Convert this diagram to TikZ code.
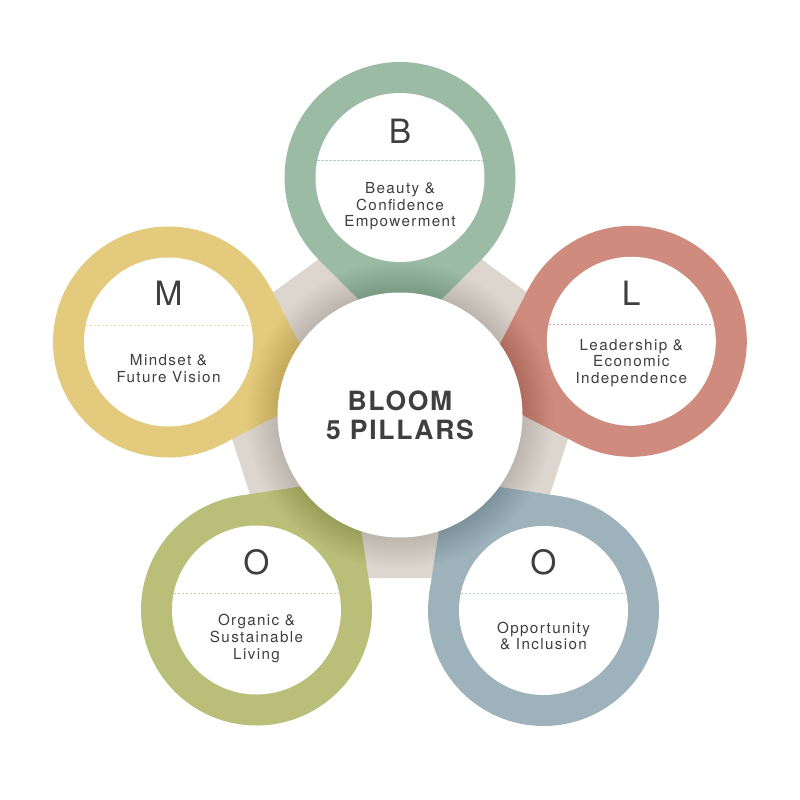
\documentclass[tikz,border=0pt]{standalone}
\usepackage{fontspec}
\setmainfont{TeX Gyre Heros}
\newfontfamily\bodyfont[LetterSpace=9]{TeX Gyre Heros}
\newfontfamily\titlefont[LetterSpace=6.4]{TeX Gyre Heros}
\usetikzlibrary{calc}
\definecolor{cB}{HTML}{9BBBA5}
\definecolor{cL}{HTML}{D08B7F}
\definecolor{cM}{HTML}{E4CA7C}
\definecolor{cOl}{HTML}{B9BE78}
\definecolor{cOr}{HTML}{9EB2BB}
\definecolor{pent}{HTML}{DDD6CE}
\definecolor{ink}{HTML}{3F3F3F}
\tikzset{
  letter/.style={anchor=base, text=ink, inner sep=0pt, font=\fontsize{33.5}{40}\selectfont},
  body/.style={anchor=base, text=ink, inner sep=0pt, font=\bodyfont\fontsize{15.2}{18}\selectfont},
  titletext/.style={anchor=base, text=ink, inner sep=0pt, font=\titlefont\bfseries\fontsize{26.5}{30}\selectfont},
  divider/.style={line width=0.8pt, dash pattern=on 2.5pt off 1.5pt},
}
\newcommand\podshape[4]{%
  \coordinate (#1c) at (#2,#3);
  \pgfmathsetmacro\podang{atan2(415-#3,400-#2)}
  \pgfmathsetmacro\podangA{\podang+45}
  \pgfmathsetmacro\podangB{\podang-45}
  \fill[#4] ($(#1c)+(\podang:163.3)$) -- ($(#1c)+(\podangA:115.5)$) -- (#1c) -- ($(#1c)+(\podangB:115.5)$) -- cycle;
  \fill[#4] (#1c) circle[radius=115.5];
}
\newcommand\podinner[2]{%
  \fill[white] (#1c) circle[radius=84.5];
  \draw[divider, #2!70!white] ($(#1c)+(-82.8,-17)$) -- ($(#1c)+(82.8,-17)$);
}
\begin{document}
\begin{tikzpicture}[x=1pt,y=-1pt]
\useasboundingbox (0,0) rectangle (800,800);
\fill[white] (0,0) rectangle (800,800);
% pentagon
\coordinate (pc) at (400,409);
\fill[pent] ($(pc)+(-90:208.9)$) -- ($(pc)+(-18:208.9)$) -- ($(pc)+(54:208.9)$) -- ($(pc)+(126:208.9)$) -- ($(pc)+(198:208.9)$) -- cycle;
% pods
\podshape{B}{400}{177.5}{cB}
\podshape{L}{631.3}{341.3}{cL}
\podshape{M}{168.5}{342}{cM}
\podshape{Ol}{256.5}{610}{cOl}
\podshape{Or}{543.5}{610.5}{cOr}
% shadow around centre
\coordinate (mc) at (400,415);
\foreach \k in {1,...,32} {
  \fill[black, opacity=0.0052] (mc) circle[radius=122.5+\k];
}
\podinner{B}{cB}
\podinner{L}{cL}
\podinner{M}{cM}
\podinner{Ol}{cOl}
\podinner{Or}{cOr}
% centre
\fill[white] (mc) circle[radius=122.5];
\node[titletext] (t1) at (400,410.7) {BLOOM};
\node[titletext] (t2) at (400,439) {5 PILLARS};
% B
\node[letter] (Bl) at (400,143) {B};
\node[body] (B1) at (400,193.3) {Beauty \&};
\node[body] (B2) at (400,210.7) {Confidence};
\node[body] (B3) at (400,226.7) {Empowerment};
% L
\node[letter] (Ll) at (631.3,305) {L};
\node[body] (L1) at (631.3,350) {Leadership \&};
\node[body] (L2) at (631.3,366.7) {Economic};
\node[body] (L3) at (631.3,383.3) {Independence};
% M
\node[letter] (Ml) at (168.5,305) {M};
\node[body] (M1) at (168.5,365.7) {Mindset \&};
\node[body] (M2) at (168.5,382.7) {Future Vision};
% O left
\node[letter] (Oll) at (256.5,574) {O};
\node[body] (Ol1) at (256.5,625.7) {Organic \&};
\node[body] (Ol2) at (256.5,642.3) {Sustainable};
\node[body] (Ol3) at (256.5,659) {Living};
% O right
\node[letter] (Orl) at (543.5,574) {O};
\node[body] (Or1) at (543.5,633.3) {Opportunity};
\node[body] (Or2) at (543.5,649.3) {\& Inclusion};
\end{tikzpicture}
\end{document}
